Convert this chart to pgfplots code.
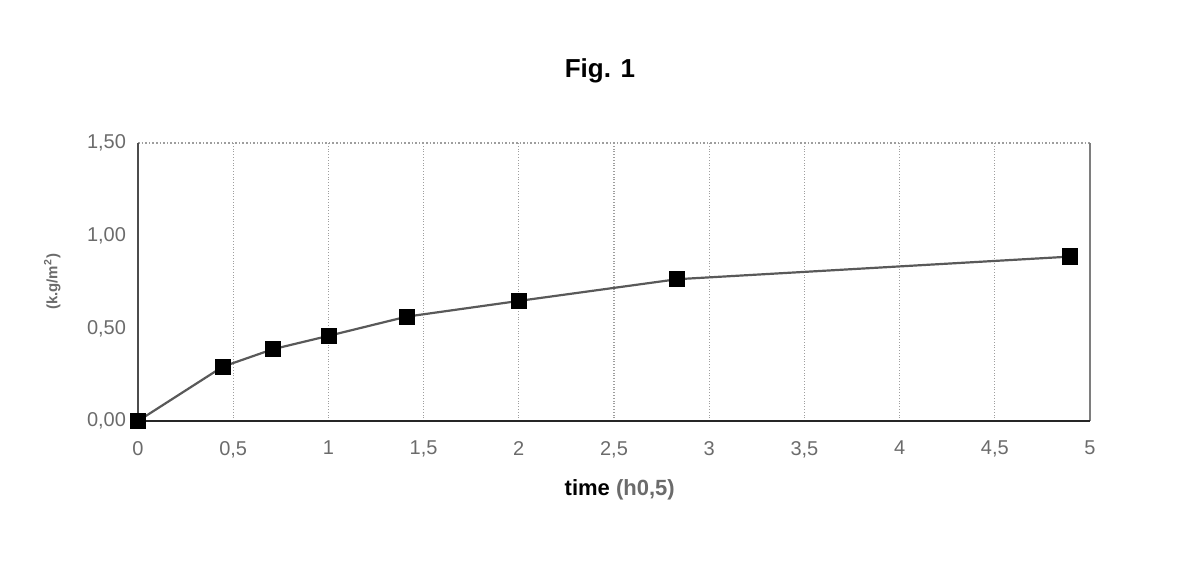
\documentclass[border=0pt]{standalone}
\usepackage{fontspec}
\setmainfont{Liberation Sans}
\usepackage{pgfplots}
\pgfplotsset{compat=1.18}
\definecolor{tickgray}{gray}{0.42}
\definecolor{gridgray}{gray}{0.62}
\begin{document}
\begin{tikzpicture}
\path[use as bounding box] (0,0) rectangle (600pt,293.5pt);
\node[font=\fontsize{13}{15}\selectfont\bfseries] at (300pt,258pt) {Fig. 1};
\begin{axis}[
  at={(69pt,83pt)}, anchor=south west,
  scale only axis, width=476pt, height=139pt,
  xmin=0, xmax=5, ymin=0, ymax=1.5,
  xtick={0,0.5,1,1.5,2,2.5,3,3.5,4,4.5,5}, ytick={0,0.5,1,1.5},
  xticklabels={0,{0,5},1,{1,5},2,{2,5},3,{3,5},4,{4,5},5},
  yticklabels={{0,00},{0,50},{1,00},{1,50}},
  axis line style={draw=none},
  xmajorgrids, ymajorgrids=false,
  major grid style={gridgray, densely dotted, line width=0.6pt},
  major tick length=0pt,
  tick label style={font=\fontsize{10}{12}\selectfont, text=tickgray},
  xticklabel style={yshift=-6.5pt},
  yticklabel style={xshift=-2.5pt},
  xlabel={\textcolor{black}{time} \textcolor{tickgray}{(h0,5)}},
  xlabel style={font=\fontsize{11}{13}\selectfont\bfseries, at={(axis description cs:0.506,-0.248)}, anchor=center},
  ylabel={(k.g/m\textsuperscript{2})},
  ylabel style={font=\fontsize{7.5}{9}\selectfont\bfseries, text=tickgray, at={(axis description cs:-0.090,0.5)}, anchor=center, rotate=0},
  clip=false,
]
\draw[gridgray, densely dotted, line width=0.8pt] (rel axis cs:0,1) -- (rel axis cs:1,1);
\draw[gridgray!80!black, line width=1.1pt] (rel axis cs:1,0) -- (rel axis cs:1,1);
\draw[black!70, line width=1.1pt] (rel axis cs:0,0) -- (rel axis cs:0,1);
\draw[black!85, line width=1.2pt] (rel axis cs:0,0) -- (rel axis cs:1,0);
\addplot[black!65, line width=1.1pt, mark=square*, mark size=3.5pt, mark options={black, solid}] coordinates {
  (0,0) (0.445,0.293) (0.707,0.387) (1.003,0.460) (1.411,0.563)
  (2.001,0.648) (2.832,0.765) (4.895,0.887)
};
\end{axis}
\end{tikzpicture}
\end{document}
